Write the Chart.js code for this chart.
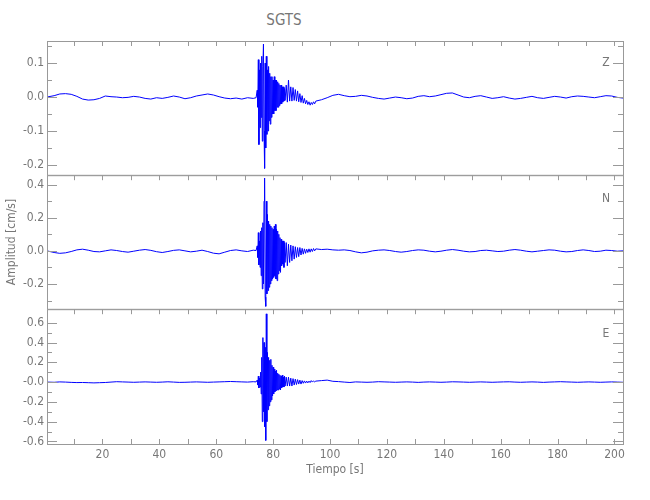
<!DOCTYPE html>
<html>
<head>
<meta charset="utf-8">
<script src="https://cdn.jsdelivr.net/npm/chart.js@4/dist/chart.umd.min.js"></script>
<style>
  body { margin: 0; background: #fff; }
  #wrap { position: relative; width: 650px; height: 500px; overflow: hidden;
          font-family: 'DejaVu Sans Condensed', 'Liberation Sans Narrow', sans-serif; color: #777; }
  canvas { position: absolute; left: 0; }
  .txt { position: absolute; transform: translate(-50%, -50%); white-space: nowrap; }
</style>
</head>
<body>
<div id="wrap">
  <div class="txt" style="left:284px; top:20px; font-size:15px;">SGTS</div>
  <canvas id="zChart" width="650" height="155" style="top:30px"></canvas>
  <canvas id="nChart" width="650" height="154" style="top:165px"></canvas>
  <canvas id="eChart" width="650" height="201" style="top:299px"></canvas>
  <div class="txt" style="left:606px; top:62px; font-size:12px;">Z</div>
  <div class="txt" style="left:606px; top:198px; font-size:12px;">N</div>
  <div class="txt" style="left:606px; top:333px; font-size:12px;">E</div>
</div>
<script>
// Tiempo [s] (shared by all three components)
const tiempo = [
  0.5, 3, 5, 7, 9, 11, 13, 15, 17, 19, 21, 23, 25, 27, 29, 31, 33, 35, 37, 39,
  41, 43, 45, 47, 49, 51, 53, 55, 57, 59, 61, 63, 65, 67, 69, 71, 73, 74,
  74.4, 74.6, 74.8, 75.0, 75.2, 75.4, 75.6, 75.8, 76.0, 76.2,
  76.4, 76.6, 76.8, 77.0, 77.2, 77.4, 77.6, 77.8, 78.0, 78.2,
  78.4, 78.6, 78.8, 79.0, 79.2, 79.4, 79.6, 79.8, 80.0, 80.2,
  80.4, 80.6, 80.8, 81.0, 81.2, 81.4, 81.6, 81.8, 82.0, 82.2,
  82.4, 82.6, 82.8, 83.0, 83.2, 83.4, 83.6, 83.8, 84.0, 84.2,
  84.6, 85.0, 85.4, 85.8, 86.2, 86.6, 87.0, 87.4, 87.8, 88.2,
  88.6, 89.0, 89.4, 89.8, 90.2, 90.6, 91.0, 91.4, 91.8, 92.2,
  92.6, 93.0, 93.4, 93.8, 94.2, 94.6, 95.0,
  97, 99, 101, 103, 105, 107, 109, 111, 113, 115, 117, 119, 121, 123, 125, 127, 129, 131,
  133, 135, 137, 139, 141, 143, 145, 147, 149, 151, 153, 155, 157, 159, 161, 163, 165, 167,
  169, 171, 173, 175, 177, 179, 181, 183, 185, 187, 189, 191, 193, 195, 197, 199, 201, 203
];

// Amplitud [cm/s] per component
const zValues = [
  0.000, 0.004, 0.009, 0.010, 0.008, 0.002, -0.006, -0.009, -0.008, -0.004,
  0.003, 0.001, 0.000, -0.002, -0.001, 0.002, 0.000, -0.004, -0.006, -0.002,
  -0.004, -0.001, 0.003, 0.000, -0.005, -0.002, 0.003, 0.006, 0.009, 0.006,
  0.001, -0.003, -0.005, -0.003, -0.006, -0.002, -0.004, -0.002,
  0.02, -0.03, 0.11, -0.14, 0.08, -0.09, 0.10, -0.06, 0.12, -0.13,
  0.09, 0.156, -0.10, -0.21, 0.10, -0.15, 0.12, -0.11, 0.08, -0.10,
  0.09, -0.07, 0.07, -0.08, 0.06, -0.06, 0.06, -0.05, 0.05, -0.05,
  0.06, -0.04, 0.05, -0.04, 0.05, -0.03, 0.045, -0.03, 0.04, -0.025,
  0.035, -0.02, 0.035, -0.02, 0.03, -0.015, 0.03, -0.012, 0.025, -0.01,
  0.035, -0.015, 0.05, -0.012, 0.03, -0.012, 0.028, -0.01, 0.022, -0.012,
  0.018, -0.014, 0.01, -0.016, 0.004, -0.018, -0.004, -0.02, -0.01, -0.022,
  -0.014, -0.024, -0.016, -0.022, -0.014, -0.02, -0.012,
  -0.008, -0.002, 0.005, 0.008, 0.004, 0.001, 0.002, 0.005, 0.003, -0.001,
  -0.004, -0.006, -0.003, 0.000, -0.002, -0.005, -0.003, 0.002, 0.004, 0.001,
  0.003, 0.007, 0.011, 0.012, 0.006, 0.000, -0.002, 0.002, 0.004, 0.000,
  -0.004, -0.002, 0.001, -0.003, -0.006, -0.004, -0.001, 0.002, -0.002, -0.004,
  -0.001, 0.002, 0.000, -0.003, 0.001, 0.003, 0.002, 0.000, -0.002, 0.001,
  0.004, 0.003, -0.001, -0.003
];
const nValues = [
  0.000, -0.010, -0.015, -0.012, -0.004, 0.006, 0.010, 0.004, -0.004, -0.006,
  0.000, 0.006, 0.002, -0.004, -0.008, -0.002, 0.004, 0.008, 0.003, -0.005,
  -0.010, -0.004, 0.003, 0.006, 0.000, -0.006, -0.002, 0.004, -0.004, -0.014,
  -0.018, -0.008, 0.002, 0.006, 0.000, -0.004, 0.004, 0.002,
  0.03, -0.04, 0.11, -0.085, 0.06, -0.10, 0.12, -0.15, 0.14, -0.23,
  0.17, -0.20, 0.30, 0.44, -0.28, -0.335, 0.30, -0.26, 0.22, -0.24,
  0.18, -0.22, 0.16, -0.20, 0.15, -0.18, 0.14, -0.17, 0.13, -0.16,
  0.15, -0.15, 0.16, -0.17, 0.13, -0.18, 0.12, -0.14, 0.10, -0.12,
  0.08, -0.13, 0.07, -0.09, 0.06, -0.08, 0.06, -0.10, 0.05, -0.07,
  0.05, -0.09, 0.04, -0.07, 0.035, -0.06, 0.03, -0.05, 0.025, -0.04,
  0.02, -0.035, 0.02, -0.025, 0.015, -0.02, 0.012, -0.015, 0.01, -0.01,
  0.012, -0.008, 0.012, -0.004, 0.014, 0.000, 0.012,
  0.008, 0.010, 0.006, 0.004, 0.006, 0.002, -0.006, -0.012, -0.008, 0.000,
  0.004, 0.006, 0.002, -0.004, -0.008, -0.004, 0.002, 0.006, 0.004, -0.002,
  -0.006, -0.002, 0.004, 0.008, 0.004, -0.002, -0.006, -0.004, 0.002, 0.004,
  0.000, -0.004, -0.002, 0.004, 0.008, 0.004, -0.002, -0.006, -0.002, 0.002,
  0.006, 0.004, -0.002, -0.006, -0.004, 0.002, 0.006, 0.002, -0.004, -0.002,
  0.004, 0.002, -0.002, 0.000
];
const eValues = [
  0.000, -0.002, 0.002, 0.000, -0.003, -0.005, -0.004, -0.006, -0.008, -0.006,
  -0.004, 0.000, 0.004, 0.002, 0.000, -0.002, 0.000, 0.002, 0.000, -0.002,
  0.000, 0.003, 0.000, -0.003, -0.002, 0.000, 0.002, 0.000, -0.002, 0.000,
  0.002, 0.004, 0.006, 0.004, 0.002, 0.000, 0.004, 0.002,
  0.02, -0.03, 0.06, -0.06, 0.04, -0.05, 0.10, -0.12, 0.25, -0.40,
  0.45, -0.30, 0.40, -0.45, 0.35, -0.59, 0.69, -0.40, 0.30, -0.28,
  0.25, -0.24, 0.22, -0.20, 0.23, -0.18, 0.17, -0.14, 0.15, -0.12,
  0.13, -0.10, 0.11, -0.09, 0.12, -0.08, 0.09, -0.08, 0.08, -0.07,
  0.07, -0.08, 0.06, -0.06, 0.07, -0.05, 0.05, -0.05, 0.06, -0.04,
  0.05, -0.04, 0.05, -0.04, 0.04, -0.04, 0.035, -0.03, 0.03, -0.025,
  0.025, -0.02, 0.02, -0.02, 0.015, -0.012, 0.012, -0.01, 0.01, -0.008,
  0.01, -0.005, 0.015, 0.000, 0.012, 0.002, 0.010,
  0.015, 0.020, 0.008, 0.005, 0.000, -0.004, 0.002, 0.000, -0.002, 0.000,
  0.004, 0.002, 0.000, -0.002, 0.000, 0.002, 0.000, -0.003, 0.000, 0.002,
  0.000, -0.002, 0.000, 0.003, 0.002, 0.000, -0.002, 0.000, 0.002, 0.000,
  -0.002, 0.000, 0.002, 0.003, 0.000, -0.002, 0.000, 0.002, 0.000, -0.003,
  0.000, 0.002, 0.004, 0.002, 0.000, -0.002, 0.000, 0.002, 0.000, -0.002,
  0.000, 0.002, 0.000, -0.002
];

// Axis ticks
const xLabelTicks = [20, 40, 60, 80, 100, 120, 140, 160, 180, 200];
const xAllTicks = [10, 20, 30, 40, 50, 60, 70, 80, 90, 100, 110, 120, 130, 140, 150, 160, 170, 180, 190, 200];
const zTicks = [-0.2, -0.1, 0.0, 0.1];
const zTickLabels = ['-0.2', '-0.1', '0.0', '0.1'];
const zMinor = [-0.15, -0.05, 0.05, 0.15];
const nTicks = [-0.2, 0.0, 0.2, 0.4];
const nTickLabels = ['-0.2', '0.0', '0.2', '0.4'];
const nMinor = [-0.3, -0.1, 0.1, 0.3];
const eTicks = [-0.6, -0.4, -0.2, 0.0, 0.2, 0.4, 0.6];
const eTickLabels = ['-0.6', '-0.4', '-0.2', '-0.0', '0.2', '0.4', '0.6'];
const eMinor = [-0.5, -0.3, -0.1, 0.1, 0.3, 0.5];

const axisColor = '#999';
const textColor = '#777';
const tickFont = { family: "'DejaVu Sans Condensed', 'Liberation Sans Narrow', sans-serif", size: 12 };

// box around each panel with inward ticks
const frameTicks = {
  id: 'frameTicks',
  afterDatasetsDraw(chart, args, opts) {
    const { ctx, chartArea: a, scales: { x, y } } = chart;
    ctx.save();
    ctx.strokeStyle = axisColor;
    ctx.lineWidth = 1;
    ctx.strokeRect(a.left + 0.5, a.top + 0.5, a.right - a.left, a.bottom - a.top);
    ctx.beginPath();
    xAllTicks.forEach(v => {
      const px = Math.round(x.getPixelForValue(v)) + 0.5;
      ctx.moveTo(px, a.top); ctx.lineTo(px, a.top + 5);
      if (opts.bottomTicks) { ctx.moveTo(px, a.bottom); ctx.lineTo(px, a.bottom - 5); }
    });
    const yTick = (v, len) => {
      const py = Math.round(y.getPixelForValue(v)) + 0.5;
      ctx.moveTo(a.left, py); ctx.lineTo(a.left + len, py);
      ctx.moveTo(a.right, py); ctx.lineTo(a.right - len, py);
    };
    opts.major.forEach(v => yTick(v, 10));
    opts.minor.forEach(v => yTick(v, 5));
    ctx.stroke();
    ctx.restore();
  }
};

function makePanel(id, values, yMin, yMax, ticks, labels, minor, pad, isBottom, yTitle) {
  const xScale = isBottom ? {
    type: 'linear', min: 0.5, max: 203,
    afterFit: s => { s.height = 56; },
    afterBuildTicks: s => { s.ticks = xLabelTicks.map(v => ({ value: v })); },
    ticks: { color: textColor, font: tickFont, padding: 4, maxRotation: 0, autoSkip: false },
    grid: { display: false, drawTicks: false },
    border: { display: false },
    title: { display: true, text: 'Tiempo [s]', color: textColor, font: tickFont, padding: { top: 0, bottom: 23 } }
  } : { type: 'linear', min: 0.5, max: 203, display: false };

  new Chart(document.getElementById(id), {
    type: 'line',
    data: {
      datasets: [{
        data: tiempo.map((t, i) => ({ x: t, y: values[i] })),
        borderColor: '#0000ff',
        borderWidth: 1,
        pointRadius: 0,
        tension: 0,
        fill: false
      }]
    },
    options: {
      responsive: false,
      animation: false,
      layout: { padding: pad },
      plugins: {
        legend: { display: false },
        tooltip: { enabled: false },
        frameTicks: { major: ticks, minor: minor, bottomTicks: isBottom }
      },
      scales: {
        x: xScale,
        y: {
          min: yMin, max: yMax,
          afterFit: s => { s.width = 47; },
          afterBuildTicks: s => { s.ticks = ticks.map(v => ({ value: v })); },
          ticks: { color: textColor, font: tickFont, padding: 3, autoSkip: false,
                   callback: (v, i) => labels[i] },
          grid: { display: false, drawTicks: false },
          border: { display: false },
          title: yTitle ? { display: true, text: yTitle, color: textColor, font: tickFont, padding: { top: 5, bottom: 0 } }
                        : { display: false }
        }
      }
    },
    plugins: [frameTicks]
  });
}

makePanel('zChart', zValues, -0.229, 0.165, zTicks, zTickLabels, zMinor,
  { top: 11, bottom: 10, left: 0, right: 27 }, false, null);
makePanel('nChart', nValues, -0.35, 0.457, nTicks, nTickLabels, nMinor,
  { top: 10, bottom: 10, left: 0, right: 27 }, false, 'Amplitud [cm/s]');
makePanel('eChart', eValues, -0.626, 0.737, eTicks, eTickLabels, eMinor,
  { top: 10, bottom: 0, left: 0, right: 27 }, true, null);
</script>
</body>
</html>
